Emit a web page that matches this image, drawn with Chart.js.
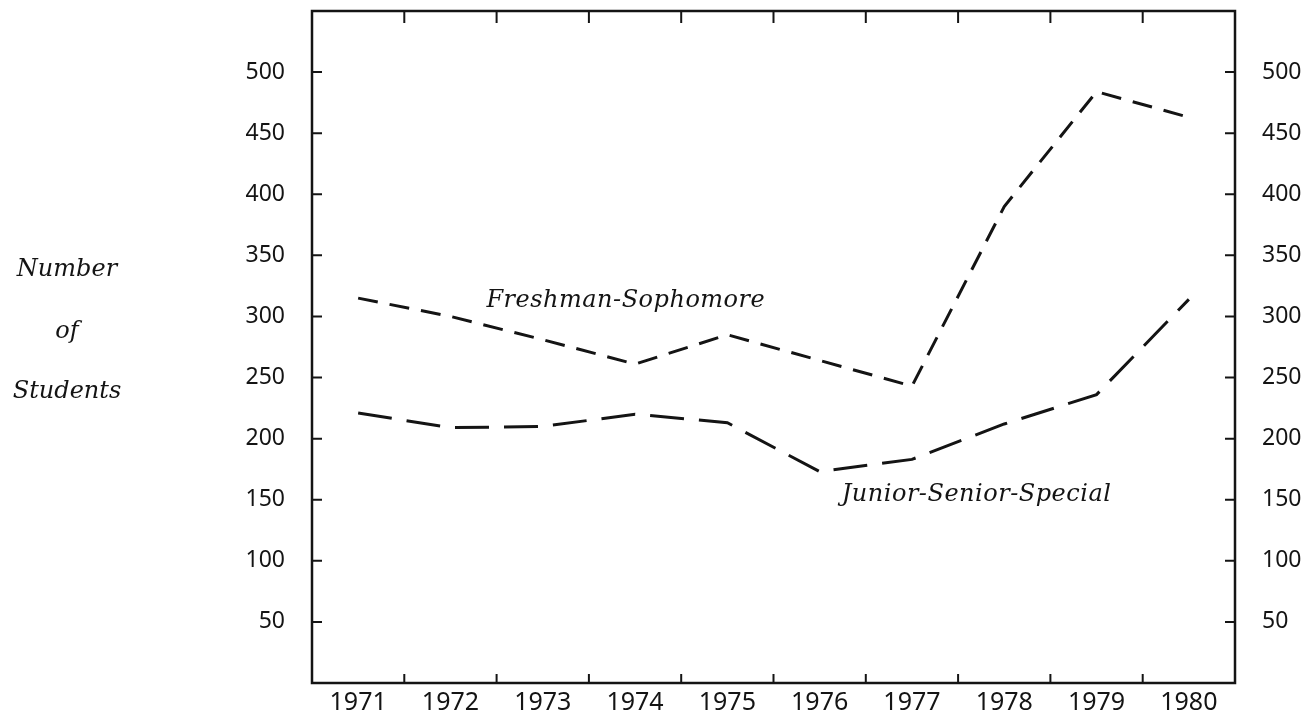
<!DOCTYPE html>
<html>
<head>
<meta charset="utf-8">
<script src="https://cdn.jsdelivr.net/npm/chart.js@4.4.1/dist/chart.umd.min.js"></script>
<style>
  html, body { margin: 0; padding: 0; background: #fff; }
  #wrap { width: 1310px; height: 718px; }
</style>
</head>
<body>
<div id="wrap"><canvas id="enrollChart"></canvas></div>
<script>
// data
const years = ['1971', '1972', '1973', '1974', '1975', '1976', '1977', '1978', '1979', '1980'];
const freshSoph = [315, 300, 281, 261, 285, 264, 243, 390, 484, 463];
const juniorSenior = [221, 209, 210, 220, 213, 173, 183, 212, 236, 314];
const yTicks = [50, 100, 150, 200, 250, 300, 350, 400, 450, 500];

// labels placed in data units (category index, value)
const notes = [
    { text: 'Freshman-Sophomore', x: 2.9, y: 313 },
    { text: 'Junior-Senior-Special', x: 6.7, y: 154 }
];
const yTitle = ['Number', 'of', 'Students'];

const ink = '#141414';
const serifItalic = 'italic 24px "DejaVu Serif"';

// frame + inward tick marks + texts
const framePlugin = {
    id: 'frame',
    afterDraw(chart) {
        const ctx = chart.ctx;
        const a = chart.chartArea;
        const x = chart.scales.x, y = chart.scales.y;
        ctx.save();
        ctx.strokeStyle = ink;
        ctx.lineWidth = 2.5;
        ctx.strokeRect(a.left, a.top, a.right - a.left, a.bottom - a.top);

        ctx.lineWidth = 2;
        ctx.beginPath();
        for (let i = 1; i < years.length; i++) {
            const px = (x.getPixelForValue(i - 1) + x.getPixelForValue(i)) / 2;
            ctx.moveTo(px, a.top); ctx.lineTo(px, a.top + 12);
            ctx.moveTo(px, a.bottom); ctx.lineTo(px, a.bottom - 9);
        }
        yTicks.forEach(v => {
            const py = y.getPixelForValue(v);
            ctx.moveTo(a.left, py); ctx.lineTo(a.left + 10, py);
            ctx.moveTo(a.right, py); ctx.lineTo(a.right - 10, py);
        });
        ctx.stroke();

        ctx.fillStyle = ink;
        ctx.font = serifItalic;
        ctx.textAlign = 'center';
        ctx.textBaseline = 'middle';
        const rows = [270, 332, 392];
        yTitle.forEach((t, i) => ctx.fillText(t, 67, rows[i]));
        ctx.letterSpacing = '0.5px';
        notes.forEach(n => {
            ctx.fillText(n.text, x.getPixelForValue(n.x), y.getPixelForValue(n.y));
        });
        ctx.restore();
    }
};

const tickFont = { family: '"Noto Sans"', size: 23 };

// fixed box sizes so the plot frame lands where the original has it
function fixY(w) {
    return s => { s.width = w; s.paddingTop = 0; s.paddingBottom = 0; };
}

new Chart(document.getElementById('enrollChart'), {
    type: 'line',
    data: {
        labels: years,
        datasets: [
            {
                label: 'Freshman-Sophomore',
                data: freshSoph,
                borderColor: ink,
                borderWidth: 3,
                borderDash: [20, 12],
                pointRadius: 0,
                tension: 0,
                yAxisID: 'y'
            },
            {
                label: 'Junior-Senior-Special',
                data: juniorSenior,
                borderColor: ink,
                borderWidth: 3,
                borderDash: [34, 15],
                pointRadius: 0,
                tension: 0,
                yAxisID: 'y'
            }
        ]
    },
    options: {
        responsive: true,
        maintainAspectRatio: false,
        animation: false,
        layout: { padding: { top: 11, left: 0, right: 0, bottom: 0 } },
        plugins: { legend: { display: false }, tooltip: { enabled: false } },
        scales: {
            x: {
                offset: true,
                grid: { display: false, drawTicks: false },
                border: { display: false },
                ticks: { color: ink, font: { family: '"Noto Sans"', size: 25 }, padding: 5, maxRotation: 0 },
                afterFit(s) { s.height = 35; s.paddingLeft = 0; s.paddingRight = 0; }
            },
            y: {
                position: 'left',
                min: 0, max: 550,
                grid: { display: false, drawTicks: false },
                border: { display: false },
                ticks: {
                    stepSize: 50, color: ink, font: tickFont, padding: 27,
                    callback: v => yTicks.includes(v) ? v : ''
                },
                afterFit: fixY(312)
            },
            y2: {
                position: 'right',
                min: 0, max: 550,
                grid: { display: false, drawTicks: false },
                border: { display: false },
                ticks: {
                    stepSize: 50, color: ink, font: tickFont, padding: 27,
                    callback: v => yTicks.includes(v) ? v : ''
                },
                afterFit: fixY(75)
            }
        }
    },
    plugins: [framePlugin]
});
</script>
</body>
</html>
